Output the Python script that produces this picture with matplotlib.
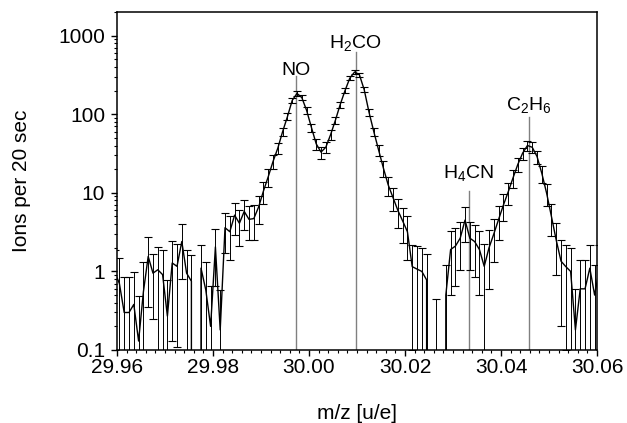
import numpy as np
import matplotlib
matplotlib.use("Agg")
import matplotlib.pyplot as plt
from matplotlib.ticker import LogLocator, FixedLocator, MultipleLocator, FuncFormatter

plt.rcParams['font.family'] = ['Liberation Sans', 'DejaVu Sans']
plt.rcParams['mathtext.fontset'] = 'custom'
plt.rcParams['mathtext.rm'] = 'Liberation Sans'
plt.rcParams['mathtext.it'] = 'Liberation Sans:italic'

# mass axis (u/e), one channel every 0.001
mz = [29.9595, 29.9605, 29.9615, 29.9625, 29.9635, 29.9645, 29.9655, 29.9665, 29.9675, 29.9685,
      29.9695, 29.9705, 29.9715, 29.9725, 29.9735, 29.9745, 29.9755, 29.9765, 29.9775, 29.9785,
      29.9795, 29.9805, 29.9815, 29.9825, 29.9835, 29.9845, 29.9855, 29.9865, 29.9875, 29.9885,
      29.9895, 29.9905, 29.9915, 29.9925, 29.9935, 29.9945, 29.9955, 29.9965, 29.9975, 29.9985,
      29.9995, 30.0005, 30.0015, 30.0025, 30.0035, 30.0045, 30.0055, 30.0065, 30.0075, 30.0085,
      30.0095, 30.0105, 30.0115, 30.0125, 30.0135, 30.0145, 30.0155, 30.0165, 30.0175, 30.0185,
      30.0195, 30.0205, 30.0215, 30.0225, 30.0235, 30.0245, 30.0255, 30.0265, 30.0275, 30.0285,
      30.0295, 30.0305, 30.0315, 30.0325, 30.0335, 30.0345, 30.0355, 30.0365, 30.0375, 30.0385,
      30.0395, 30.0405, 30.0415, 30.0425, 30.0435, 30.0445, 30.0455, 30.0465, 30.0475, 30.0485,
      30.0495, 30.0505, 30.0515, 30.0525, 30.0535, 30.0545, 30.0555, 30.0565, 30.0575, 30.0585,
      30.0595, 30.0605]

# ions per 20 sec
ions = [1.0, 0.7, 0.3, 0.3, 0.38, 0.13, 0.55, 1.55, 0.95, 1.05,
        0.91, 0.27, 1.28, 1.16, 2.4, 0.95, 0.75, 0.0, 1.1, 0.58,
        0.2, 2.05, 0.18, 3.6, 3.2, 5.2, 4.1, 5.8, 4.6, 4.7,
        6.6, 10.5, 16.0, 25.0, 37.0, 60.0, 93.0, 150.0, 184.0, 163.0,
        112.0, 68.0, 42.0, 33.0, 38.0, 55.0, 84.0, 133.0, 200.0, 288.0,
        345.0, 318.0, 205.0, 106.0, 60.0, 35.0, 20.6, 12.6, 8.7, 6.0,
        4.4, 3.2, 1.15, 1.07, 1.0, 0.78, 0.0, 0.0, 0.0, 0.5,
        1.9, 2.1, 2.65, 4.5, 2.65, 2.4, 1.9, 1.16, 2.0, 3.0,
        4.6, 7.0, 10.3, 15.5, 23.0, 32.0, 40.0, 38.0, 29.0, 17.7,
        9.9, 5.0, 2.5, 1.35, 1.15, 1.0, 0.18, 0.6, 0.6, 1.1,
        0.5, 1.1]

# error bars (half length)
ions_err = [0.9, 0.8, 0.55, 0.55, 0.6, 0.35, 0.75, 1.2, 0.7, 1.0,
            0.95, 0.5, 1.15, 1.05, 1.6, 0.95, 0.85, 0.0, 1.05, 0.75,
            0.45, 1.4, 0.4, 1.9, 1.8, 2.3, 2.0, 2.4, 2.1, 2.2,
            2.6, 3.2, 4.0, 5.0, 6.1, 7.7, 9.6, 12.0, 13.6, 12.8,
            10.6, 8.2, 6.5, 5.7, 6.2, 7.4, 9.2, 11.5, 14.1, 17.0,
            18.6, 17.8, 14.3, 10.3, 7.7, 5.9, 4.5, 3.5, 2.9, 2.4,
            2.1, 1.8, 1.05, 1.05, 1.0, 0.9, 0.0, 0.45, 0.0, 0.7,
            1.4, 1.45, 1.6, 2.1, 1.6, 1.55, 1.4, 1.08, 1.4, 1.7,
            2.1, 2.6, 3.2, 3.9, 4.8, 5.7, 6.3, 6.2, 5.4, 4.2,
            3.1, 2.2, 1.6, 1.15, 1.05, 1.0, 0.42, 0.78, 0.78, 1.05,
            0.7, 1.05]

# peak assignments
peak_names = ['NO', r'H$_2$CO', r'H$_4$CN', r'C$_2$H$_6$']
peak_pos = [29.9972, 30.0097, 30.0333, 30.0458]
peak_line_top = [308, 622, 10.4, 93]
peak_label_y = [318, 700, 15.5, 113]

fig = plt.figure(figsize=(6.27, 4.23), dpi=100)
ax = fig.add_axes([0.1866, 0.1726, 0.7656, 0.7990])

for pos, top in zip(peak_pos, peak_line_top):
    ax.plot([pos, pos], [0.1, top], color='#808080', lw=1.0, zorder=1)
for name, pos, ly in zip(peak_names, peak_pos, peak_label_y):
    ax.text(pos, ly, name, ha='center', va='baseline', fontsize=14)

ax.errorbar(mz, ions, yerr=ions_err, color='black', lw=1.0,
            ecolor='black', elinewidth=0.7, capsize=3, capthick=0.8, zorder=2)

ax.set_yscale('log')
ax.set_xlim(29.96, 30.06)
ax.set_ylim(0.1, 2000)

ax.xaxis.set_major_locator(FixedLocator([29.96, 29.98, 30.00, 30.02, 30.04, 30.06]))
ax.xaxis.set_minor_locator(MultipleLocator(0.002))
ax.xaxis.set_major_formatter(FuncFormatter(lambda v, p: f'{v:.2f}'))
ax.yaxis.set_major_locator(FixedLocator([0.1, 1, 10, 100, 1000]))
ax.yaxis.set_minor_locator(LogLocator(base=10, subs=np.arange(2, 10), numticks=20))
ax.yaxis.set_major_formatter(FuncFormatter(lambda v, p: f'{v:g}'))

ax.tick_params(which='major', direction='out', length=4.5, width=1.0, labelsize=15)
ax.tick_params(which='minor', direction='out', length=2.3, width=0.8)
ax.tick_params(axis='x', which='major', pad=1.5)
ax.tick_params(axis='y', which='major', pad=4)
for s in ax.spines.values():
    s.set_linewidth(1.1)

ax.set_xlabel('m/z [u/e]', fontsize=15, labelpad=19)
ax.set_ylabel('Ions per 20 sec', fontsize=15, labelpad=20)

fig.savefig('out.png', dpi=100)
